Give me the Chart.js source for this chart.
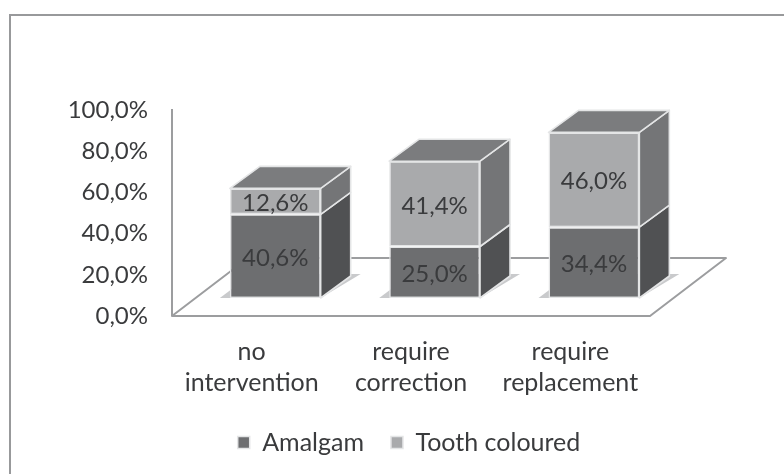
<!DOCTYPE html>
<html>
<head>
<meta charset="utf-8">
<script src="https://cdn.jsdelivr.net/npm/chart.js@4"></script>
<style>
    html, body { margin: 0; padding: 0; background: #fff; }
    #wrap { position: relative; width: 784px; height: 474px; overflow: hidden; }
    #frame { position: absolute; left: 9px; top: 14px; width: 2000px; height: 2000px; border: 2px solid #98999b; box-sizing: border-box; }
    canvas { position: absolute; left: 0; top: 0; filter: blur(0.5px); }
</style>
</head>
<body>
<div id="wrap">
    <div id="frame"></div>
    <canvas id="chart" width="784" height="474"></canvas>
</div>
<script>
const categories = [['no', 'intervention'], ['require', 'correction'], ['require', 'replacement']];
const amalgam = [40.6, 25.0, 34.4];
const toothColoured = [12.6, 41.4, 46.0];
const tickLabels = ['0,0%', '20,0%', '40,0%', '60,0%', '80,0%', '100,0%'];

const FONT = 'Lato';
const TEXT = '#3a3b3d';
const AXIS = '#9c9d9f';

// how far the bars sit back on the floor, and how deep they are
const SHIFT = { x: 23.6, y: -18 };
const DEPTH = { x: 30, y: -22 };
const FLOOR = { x: 76, y: -58 };

function pct(v) {
    return v.toFixed(1).replace('.', ',') + '%';
}

function poly(ctx, pts, fill, stroke) {
    ctx.beginPath();
    pts.forEach((p, i) => i ? ctx.lineTo(p[0], p[1]) : ctx.moveTo(p[0], p[1]));
    ctx.closePath();
    if (fill) { ctx.fillStyle = fill; ctx.fill(); }
    if (stroke) { ctx.strokeStyle = stroke; ctx.lineWidth = 1.6; ctx.stroke(); }
}

const box3d = {
    id: 'box3d',
    beforeDatasetsDraw(chart) {
        const ctx = chart.ctx;
        const x = chart.scales.x, y = chart.scales.y;
        const left = x.left, right = x.right, floor = y.getPixelForValue(0);

        // floor and wall
        ctx.save();
        ctx.lineJoin = 'round';
        ctx.beginPath();
        ctx.moveTo(left, y.getPixelForValue(100) - 1);
        ctx.lineTo(left, floor);
        ctx.lineTo(right, floor);
        ctx.lineTo(right + FLOOR.x, floor + FLOOR.y);
        ctx.lineTo(left + FLOOR.x, floor + FLOOR.y);
        ctx.lineTo(left, floor);
        ctx.strokeStyle = AXIS;
        ctx.lineWidth = 2;
        ctx.stroke();

        // shadows on the floor
        chart.getDatasetMeta(0).data.forEach(bar => {
            const half = bar.width / 2;
            const bx = bar.x + SHIFT.x, by = floor + SHIFT.y;
            poly(ctx, [
                [bx - half - 10, by],
                [bx - half - 10 + 32, by - 24],
                [bx + half + 40, by - 24],
                [bx + half, by]
            ], '#c9cacc');
        });

        // side and top faces, lower segment first
        const sides = ['#505153', '#747577'];
        [0, 1].forEach(d => {
            chart.getDatasetMeta(d).data.forEach(bar => {
                const half = bar.width / 2;
                const r = bar.x + half + SHIFT.x, l = bar.x - half + SHIFT.x;
                const t = bar.y + SHIFT.y, b = bar.base + SHIFT.y;
                poly(ctx, [[r, b], [r + DEPTH.x, b + DEPTH.y], [r + DEPTH.x, t + DEPTH.y], [r, t]], sides[d], '#e4e5e6');
                if (d === 1) {
                    poly(ctx, [[l, t], [l + DEPTH.x, t + DEPTH.y], [r + DEPTH.x, t + DEPTH.y], [r, t]], '#7b7c7e', '#e4e5e6');
                }
            });
        });
        ctx.restore();
    },
    beforeDatasetDraw(chart) {
        chart.ctx.save();
        chart.ctx.translate(SHIFT.x, SHIFT.y);
    },
    afterDatasetDraw(chart) {
        chart.ctx.restore();
    },
    afterDatasetsDraw(chart) {
        const ctx = chart.ctx;
        ctx.save();
        ctx.font = '24px ' + FONT;
        ctx.fillStyle = TEXT;
        ctx.textAlign = 'center';
        ctx.textBaseline = 'middle';
        chart.data.datasets.forEach((ds, d) => {
            chart.getDatasetMeta(d).data.forEach((bar, i) => {
                ctx.fillText(pct(ds.data[i]), bar.x + SHIFT.x, (bar.y + bar.base) / 2 + SHIFT.y + 2);
            });
        });
        ctx.restore();
    }
};

new Chart(document.getElementById('chart'), {
    type: 'bar',
    data: {
        labels: categories,
        datasets: [
            { label: 'Amalgam', data: amalgam, backgroundColor: '#6d6e70', borderColor: '#e4e5e6', borderWidth: 1.5, borderSkipped: false },
            { label: 'Tooth coloured', data: toothColoured, backgroundColor: '#a9aaac', borderColor: '#e4e5e6', borderWidth: 1.5, borderSkipped: false }
        ]
    },
    options: {
        responsive: false,
        animation: false,
        barPercentage: 0.57,
        categoryPercentage: 1,
        layout: { padding: { left: 34, right: 0, top: 110, bottom: 9 } },
        plugins: {
            tooltip: { enabled: false },
            legend: {
                position: 'bottom',
                labels: {
                    font: { family: FONT, size: 25 },
                    color: TEXT,
                    boxWidth: 12,
                    boxHeight: 12,
                    padding: 27
                }
            }
        },
        scales: {
            x: {
                stacked: true,
                grid: { display: false },
                border: { display: false },
                afterFit: s => { s.height = 87; },
                ticks: {
                    font: { family: FONT, size: 25, lineHeight: 1.24 },
                    color: TEXT,
                    padding: 12,
                    maxRotation: 0,
                    autoSkip: false
                }
            },
            y: {
                stacked: true,
                min: 0,
                max: 100,
                grid: { display: false, drawTicks: false },
                border: { display: false },
                afterFit: s => { s.width = 138; },
                ticks: {
                    stepSize: 20,
                    padding: 24,
                    font: { family: FONT, size: 24 },
                    color: TEXT,
                    callback: (v, i) => tickLabels[i]
                }
            },
            // empty right-hand axis, keeps the plot narrower than the legend row
            y2: {
                position: 'right',
                min: 0,
                max: 100,
                grid: { display: false, drawTicks: false },
                border: { display: false },
                ticks: { display: false },
                afterFit: s => { s.width = 134; }
            }
        }
    },
    plugins: [box3d]
});
</script>
</body>
</html>
